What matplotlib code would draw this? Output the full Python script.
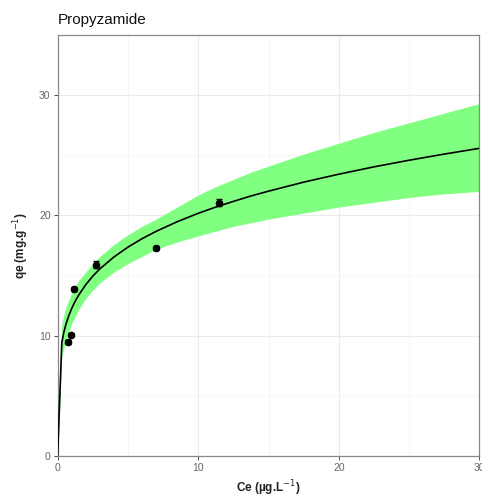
import matplotlib.pyplot as plt
from matplotlib.ticker import MultipleLocator

plt.rcParams['font.family'] = ['Liberation Sans', 'DejaVu Sans']

# measured points
ce_obs = [0.76, 0.95, 1.19, 2.73, 6.99, 11.49]
qe_obs = [9.5, 10.1, 13.9, 15.9, 17.3, 21.05]
qe_err = [0.15, 0.15, 0.2, 0.3, 0.15, 0.3]

# fitted curve and confidence band
ce_fit = [0, 0.3, 0.45, 0.6, 0.8, 1.0, 1.25, 1.5, 2.0, 2.5, 3.0, 4.0, 5.0, 6.0, 7.0, 8.5,
          10, 11.25, 12.5, 13.75, 15, 17.5, 20, 22.5, 25, 27.5, 30]
qe_fit = [0, 9.46, 10.33, 10.99, 11.69, 12.27, 12.88, 13.39, 14.25, 14.96, 15.56, 16.55,
          17.37, 18.07, 18.68, 19.48, 20.18, 20.70, 21.17, 21.62, 22.02, 22.77, 23.43,
          24.04, 24.59, 25.10, 25.58]
qe_upr = [0, 11.0, 11.8, 12.4, 13.0, 13.6, 14.1, 14.6, 15.3, 16.0, 16.6, 17.6,
          18.4, 19.1, 19.7, 20.7, 21.7, 22.4, 23.0, 23.6, 24.1, 25.1, 26.0,
          26.9, 27.7, 28.5, 29.3]
qe_lwr = [0, 8.3, 9.0, 9.7, 10.4, 11.0, 11.6, 12.2, 13.1, 13.8, 14.4, 15.3,
          16.0, 16.6, 17.2, 17.8, 18.3, 18.7, 19.1, 19.4, 19.7, 20.2, 20.7,
          21.1, 21.5, 21.8, 22.0]

fig = plt.figure(figsize=(4.82, 4.99), dpi=100)
ax = fig.add_axes([0.1195, 0.0856, 0.8753, 0.8445])

ax.fill_between(ce_fit, qe_lwr, qe_upr, color='#80ff80', lw=0, zorder=2)
ax.plot(ce_fit, qe_fit, color='black', lw=1.2, zorder=3)
ax.errorbar(ce_obs, qe_obs, yerr=qe_err, fmt='o', color='black', ms=4.5,
            elinewidth=0.8, capsize=2, zorder=4)

ax.set_xlim(0, 30)
ax.set_ylim(0, 35)
ax.xaxis.set_major_locator(MultipleLocator(10))
ax.xaxis.set_minor_locator(MultipleLocator(5))
ax.yaxis.set_major_locator(MultipleLocator(10))
ax.yaxis.set_minor_locator(MultipleLocator(5))
ax.grid(True, which='major', color='#ebebeb', lw=0.8, zorder=0)
ax.grid(True, which='minor', color='#f3f3f3', lw=0.5, zorder=0)
ax.set_axisbelow(True)
ax.tick_params(which='major', length=3, width=0.6, color='#333333',
               labelsize=7.5, labelcolor='#666666', pad=2)
ax.tick_params(which='minor', length=0)
for s in ax.spines.values():
    s.set_color('#888888')
    s.set_linewidth(0.9)

ax.set_xlabel(r'Ce (µg.L$^{-1}$)', fontsize=8.5, fontweight='bold', color='#222222', labelpad=4)
ax.set_ylabel(r'qe (mg.g$^{-1}$)', fontsize=8.5, fontweight='bold', color='#222222', labelpad=6)
fig.text(0.1205, 0.96, 'Propyzamide', fontsize=11, ha='left', va='center', color='#111111')

fig.savefig('out.png', dpi=100)
